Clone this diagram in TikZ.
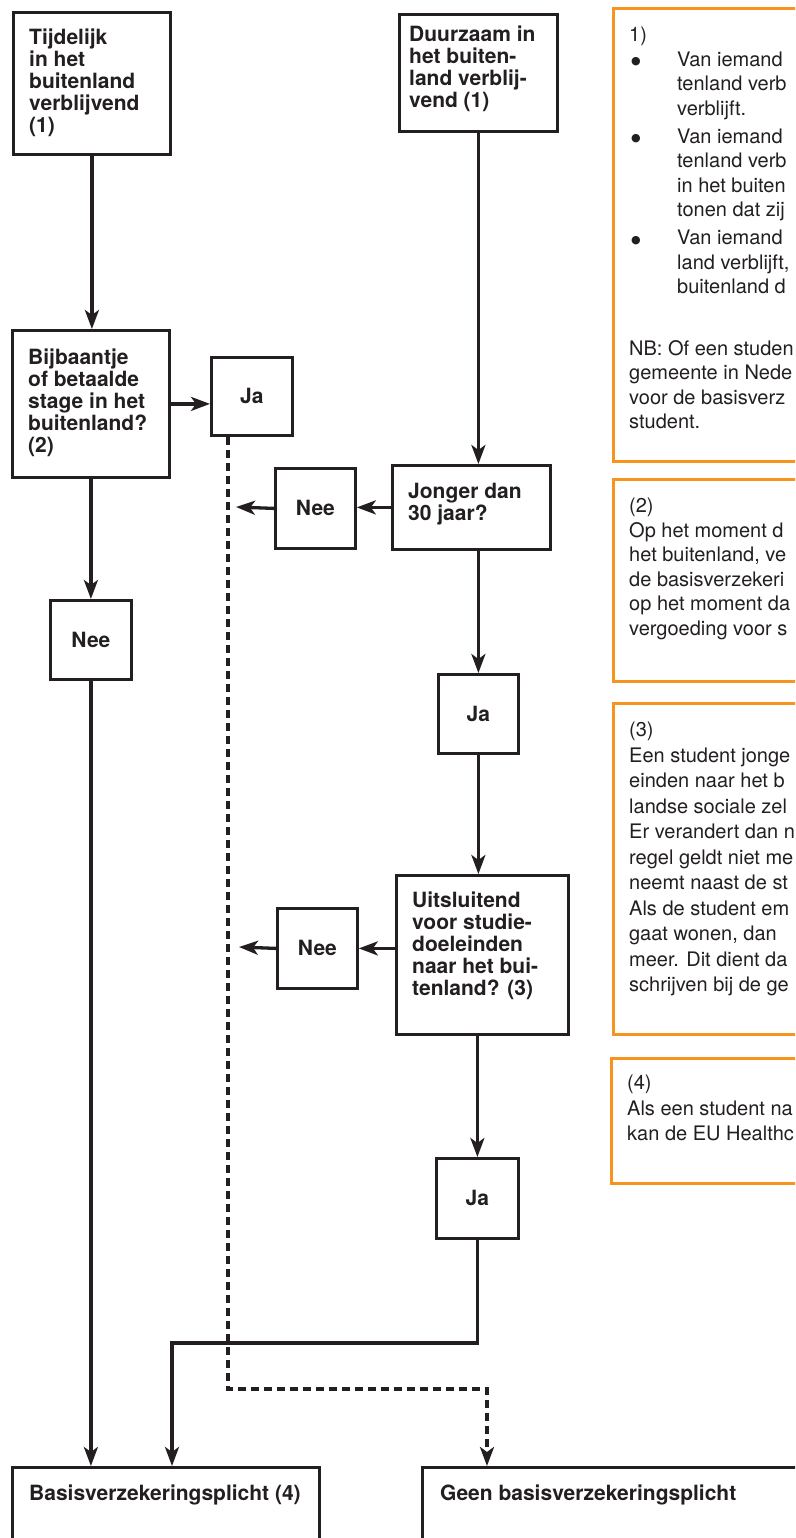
\documentclass[tikz,border=0pt]{standalone}
\usepackage{fontspec}
\setmainfont{TeX Gyre Heros}
\newfontfamily\dejavu{DejaVu Sans}
\usetikzlibrary{arrows.meta}
\definecolor{ink}{HTML}{231F20}
\definecolor{oranje}{HTML}{F7941D}
\newcommand{\blt}{\makebox[48pt][l]{\hspace{2pt}{\dejavu\fontsize{11}{11}\selectfont\raisebox{1.5pt}{●}}}}
\tikzset{
  flowbox/.style={draw=ink, line width=2.8pt, anchor=north west, inner sep=0pt},
  notebox/.style={draw=oranje, line width=3pt, anchor=north west, inner sep=0pt},
  flowlabel/.style={anchor=north west, inner sep=0pt, align=left, text=ink, font=\bfseries\fontsize{21}{21.8}\selectfont},
  answer/.style={flowbox, text=ink, font=\bfseries\fontsize{21}{21.8}\selectfont},
  notetext/.style={anchor=north west, inner sep=0pt, align=left, text=ink, font=\fontsize{20}{24.5}\selectfont},
  flowarrow/.style={draw=ink, line width=3.3pt, -{Stealth[length=19pt,width=14pt,inset=5pt]}},
  dashedarrow/.style={flowarrow, dash pattern=on 8pt off 5pt}
}
\begin{document}
\begin{tikzpicture}[x=1pt,y=-1pt]
\useasboundingbox (0,0) rectangle (795,1538);
\fill[white] (0,0) rectangle (795,1538);
\clip (0,0) rectangle (795,1538);

% flow boxes
\node[flowbox, minimum width=157pt, minimum height=142pt] (A) at (12,11) {};
\node[flowlabel] (At) at (29,29) {Tijdelijk\\in het\\buitenland\\verblijvend\\(1)};
\node[flowbox, minimum width=158pt, minimum height=117pt] (B) at (398,13) {};
\node[flowlabel] (Bt) at (409,26) {Duurzaam in\\het buiten-\\land verblij-\\vend (1)};
\node[flowbox, minimum width=157pt, minimum height=147pt] (C) at (11,329) {};
\node[flowlabel] (Ct) at (28,349) {Bijbaantje\\of betaalde\\stage in het\\buitenland?\\(2)};
\node[answer, minimum width=81pt, minimum height=78pt] (D) at (210,356) {Ja};
\node[answer, minimum width=80pt, minimum height=80pt] (E) at (274,467) {Nee};
\node[flowbox, minimum width=158pt, minimum height=84pt] (F) at (391,464) {};
\node[flowlabel] (Ft) at (408,483) {Jonger dan\\30 jaar?};
\node[answer, minimum width=80pt, minimum height=79pt] (G) at (437,673) {Ja};
\node[flowbox, minimum width=172pt, minimum height=159pt] (H) at (395,874) {};
\node[flowlabel] (Ht) at (412,892) {Uitsluitend\\voor studie-\\doeleinden\\naar het bui-\\tenland? (3)};
\node[answer, minimum width=80pt, minimum height=80pt] (I) at (276,907) {Nee};
\node[answer, minimum width=81pt, minimum height=79pt] (J) at (49,599) {Nee};
\node[answer, minimum width=82pt, minimum height=80pt] (K) at (435,1157) {Ja};
\node[flowbox, minimum width=307pt, minimum height=200pt] (L) at (11,1466) {};
\node[flowlabel] (Lt) at (29,1485) {Basisverzekeringsplicht (4)};
\node[flowbox, minimum width=500pt, minimum height=200pt] (M) at (421,1466) {};
\node[flowlabel] (Mt) at (440,1485) {Geen basisverzekeringsplicht};

% note boxes
\node[notebox, minimum width=300pt, minimum height=453pt] (O1) at (612,7) {};
\node[notetext] (O1t) at (629,27) {1)\\
\blt Van iemand\\
\hspace*{48pt}tenland verb\\
\hspace*{48pt}verblijft.\\[3.5pt]
\blt Van iemand\\
\hspace*{48pt}tenland verb\\
\hspace*{48pt}in het buiten\\
\hspace*{48pt}tonen dat zij\\[3.5pt]
\blt Van iemand\\
\hspace*{48pt}land verblijft,\\
\hspace*{48pt}buitenland d\\[37pt]
NB: Of een studen\\
gemeente in Nede\\
voor de basisverz\\
student.};
\node[notebox, minimum width=300pt, minimum height=202pt] (O2) at (612,478) {};
\node[notetext] (O2t) at (629,498) {(2)\\Op het moment d\\het buitenland, ve\\de basisverzekeri\\op het moment da\\vergoeding voor s};
\node[notebox, minimum width=300pt, minimum height=331pt] (O3) at (612,702) {};
\node[notetext, font=\fontsize{20}{25.5}\selectfont] (O3t) at (629,722) {(3)\\Een student jonge\\einden naar het b\\landse sociale zel\\Er verandert dan n\\regel geldt niet me\\neemt naast de st\\Als de student em\\gaat wonen, dan\\meer. Dit dient da\\schrijven bij de ge};
\node[notebox, minimum width=300pt, minimum height=125pt] (O4) at (610,1057) {};
\node[notetext, font=\fontsize{20}{25.5}\selectfont] (O4t) at (627,1075) {(4)\\Als een student na\\kan de EU Healthc};

% connector helpers
\coordinate (dx) at (228,0);
\coordinate (e1) at (236,507);
\coordinate (i1) at (239,947);
\coordinate (k1) at (172,1343);
\coordinate (dc1) at (228,1389);
\coordinate (dc2) at (487,1389);

% connectors
\draw[flowarrow] (A.south) -- (A.south |- C.north);
\draw[flowarrow] (C.east) -- (C.east -| D.west);
\draw[flowarrow] (C.south) -- (C.south |- J.north);
\draw[flowarrow] (J.south) -- (J.south |- L.north);
\draw[flowarrow] (B.south) -- (B.south |- F.north);
\draw[flowarrow] (F.west) -- (F.west -| E.east);
\draw[flowarrow] (E.west) -- (e1);
\draw[flowarrow] (G.north |- F.south) -- (G.north);
\draw[flowarrow] (G.south) -- (G.south |- H.north);
\draw[flowarrow] (I.east -| H.west) -- (I.east);
\draw[flowarrow] (I.west) -- (i1);
\draw[flowarrow] (K.north |- H.south) -- (K.north);
\draw[flowarrow] (K.south) |- (k1) -- (k1 |- L.north);
\draw[dashedarrow] (D.south -| dx) -- (dc1) -- (dc2) -- (dc2 |- M.north);
\end{tikzpicture}
\end{document}
